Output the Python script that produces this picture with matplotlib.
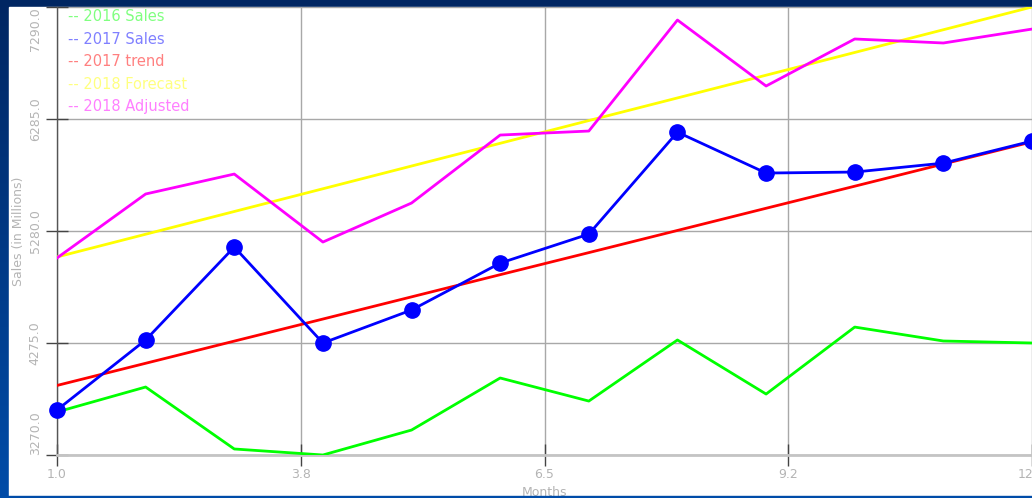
import numpy as np
import matplotlib
matplotlib.use("Agg")
import matplotlib.pyplot as plt
from matplotlib.patches import Rectangle

# Chart data
months = [1, 2, 3, 4, 5, 6, 7, 8, 9, 10, 11, 12]
sales_2016 = [3656, 3880, 3324, 3270, 3494, 3961, 3754, 4302, 3817, 4418, 4293, 4275]
sales_2017 = [3674, 4302, 5136, 4275, 4571, 4992, 5252, 6167, 5800, 5809, 5889, 6087]
trend_2017 = [3894, 4093, 4292, 4490, 4689, 4888, 5086, 5285, 5484, 5682, 5881, 6080]
forecast_2018 = [5047, 5251, 5455, 5659, 5863, 6067, 6271, 6474, 6678, 6882, 7086, 7290]
adjusted_2018 = [5038, 5612, 5791, 5181, 5531, 6141, 6177, 7173, 6581, 7003, 6967, 7092]

series_names = ["2016 Sales", "2017 Sales", "2017 trend", "2018 Forecast", "2018 Adjusted"]
line_colors = ["#00ff00", "#0000ff", "#ff0000", "#ffff00", "#ff00ff"]
legend_colors = ["#80ff80", "#8080ff", "#ff8080", "#ffff80", "#ff80ff"]

x_ticks = [1.0, 3.75, 6.5, 9.25, 12.0]
x_tick_labels = ["1.0", "3.8", "6.5", "9.2", "12.0"]
y_ticks = [3270.0, 4275.0, 5280.0, 6285.0, 7290.0]

W, H = 1032, 498
fig = plt.figure(figsize=(W / 100, H / 100), dpi=100)

# blue gradient background
bg = fig.add_axes([0, 0, 1, 1], zorder=-10)
grad = np.linspace(0, 1, 256).reshape(-1, 1)
top = np.array([0x00, 0x26, 0x62]) / 255
bot = np.array([0x00, 0x4c, 0xa8]) / 255
img = top + (bot - top) * grad[:, :, None]
bg.imshow(img, aspect="auto", extent=[0, 1, 0, 1], origin="upper")
bg.add_patch(Rectangle((9 / W, 2 / H), 1, (496 - 7) / H, color="white"))
bg.set_xlim(0, 1)
bg.set_ylim(0, 1)
bg.axis("off")

ax = fig.add_axes([57 / W, 43 / H, (W - 57) / W, (455 - 7) / H])
ax.set_facecolor("none")

all_series = [sales_2016, sales_2017, trend_2017, forecast_2018, adjusted_2018]
for name, vals, col in zip(series_names, all_series, line_colors):
    if name == "2017 Sales":
        ax.plot(months, vals, color=col, lw=2, marker="o", ms=11, zorder=5, clip_on=False)
    else:
        ax.plot(months, vals, color=col, lw=2, zorder=4)

ax.set_xlim(1, 12)
ax.set_ylim(3270, 7290)
ax.set_xticks(x_ticks)
ax.set_xticklabels(x_tick_labels)
ax.set_yticks(y_ticks)
ylabels = ax.set_yticklabels([f"{v:.1f}" for v in y_ticks], rotation=90, va="center")
ylabels[0].set_va("bottom")
ylabels[-1].set_va("top")
ax.grid(True, color="#a8a8a8", lw=1)
ax.set_axisbelow(True)

for s in ["top", "right"]:
    ax.spines[s].set_visible(False)
ax.spines["left"].set_color("#555555")
ax.spines["left"].set_linewidth(1)
ax.spines["bottom"].set_color("#c4c4c4")
ax.spines["bottom"].set_linewidth(2)
ax.tick_params(axis="both", direction="inout", length=16, width=1, color="#444444",
               labelcolor="#b4b4b4", labelsize=9)
ax.tick_params(axis="x", pad=1)
ax.tick_params(axis="y", pad=3)

ax.set_xlabel("Months", color="#b4b4b4", fontsize=9, labelpad=4)
ax.set_ylabel("Sales (in Millions)", color="#b4b4b4", fontsize=9, labelpad=3)

# legend as coloured text lines
for i, (name, col) in enumerate(zip(series_names, legend_colors)):
    ax.text(0.011, 0.978 - i * 0.0502, "-- " + name, transform=ax.transAxes,
            color=col, fontsize=10.5, va="center", ha="left")

# thin bottom band drawn over the x label
fig.add_artist(Rectangle((0, 0), 1, 2 / H, transform=fig.transFigure,
                         color="#004ca8", zorder=20))

fig.savefig("out.png", dpi=100)
